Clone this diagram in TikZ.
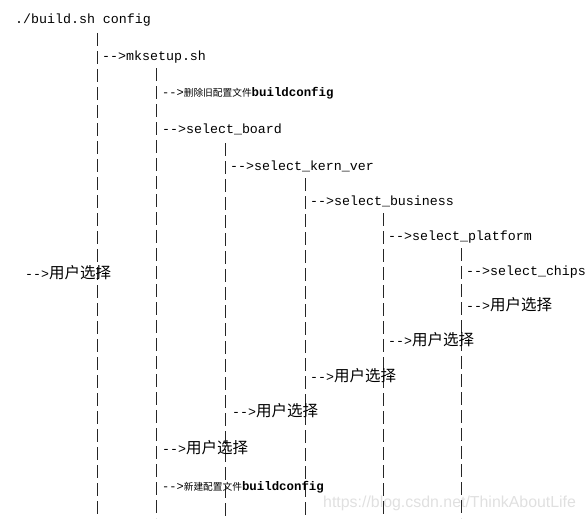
\documentclass[tikz,border=0pt]{standalone}
\usepackage{fontspec}
\setmonofont{Liberation Mono}
\newfontfamily\cjk{Noto Sans CJK SC}
\newfontfamily\wmfont{Liberation Sans}
\begin{document}
\begin{tikzpicture}[x=1pt,y=-1pt,
  lbl/.style={anchor=base west,inner sep=0pt,font=\ttfamily\fontsize{13.3}{14}\selectfont},
  small/.style={anchor=base west,inner sep=0pt,font=\ttfamily\fontsize{12}{13}\selectfont},
  vline/.style={draw=black!85,line width=0.9pt,dash pattern=on 13pt off 5pt}]
\useasboundingbox (0,0) rectangle (585,527);
\newcommand{\zh}[1]{{\cjk\fontsize{15.5}{16}\selectfont #1}}
\newcommand{\zhs}[1]{{\cjk\fontsize{9.7}{10}\selectfont #1}}
% vertical dashed guides
\coordinate (t1) at (97,33);  \coordinate (b1) at (97,518);
\coordinate (t2) at (156,68); \coordinate (b2) at (156,518);
\coordinate (t3) at (225,143); \coordinate (b3) at (225,518);
\coordinate (t4) at (305,178); \coordinate (b4) at (305,518);
\coordinate (t5) at (383,213); \coordinate (b5) at (383,518);
\coordinate (t6) at (461,248); \coordinate (b6) at (461,518);
\foreach \i in {1,...,6} {\draw[vline] (t\i) -- (b\i);}
% labels
\node[lbl] (n0) at (15,24) {./build.sh config};
\node[lbl] (n1) at (102,60) {-{}->mksetup.sh};
\node[small] (n2) at (162,96) {-{}->\zhs{删除旧配置文件}{\fontsize{12.4}{13}\selectfont\textbf{buildconfig}}};
\node[lbl] (n3) at (162,133) {-{}->select\_board};
\node[lbl] (n4) at (230,170) {-{}->select\_kern\_ver};
\node[lbl] (n5) at (310,205) {-{}->select\_business};
\node[lbl] (n6) at (388,240) {-{}->select\_platform};
\node[lbl] (n7) at (466,275) {-{}->select\_chips};
\node[lbl] (n8) at (466,310) {-{}->\zh{用户选择}};
\node[lbl] (n9) at (388,345) {-{}->\zh{用户选择}};
\node[lbl] (n10) at (310,381) {-{}->\zh{用户选择}};
\node[lbl] (n11) at (232,416) {-{}->\zh{用户选择}};
\node[lbl] (n12) at (162,453) {-{}->\zh{用户选择}};
\node[small] (n13) at (162,490) {-{}->\zhs{新建配置文件}{\fontsize{12.4}{13}\selectfont\textbf{buildconfig}}};
\node[lbl] (nl) at (25,278) {-{}->\zh{用户选择}};
% watermark
\node[anchor=base west,inner sep=0pt,text=black!12,font=\wmfont\fontsize{15.9}{17}\selectfont] (wm) at (323,507) {https://blog.csdn.net/ThinkAboutLife};
\end{tikzpicture}
\end{document}
